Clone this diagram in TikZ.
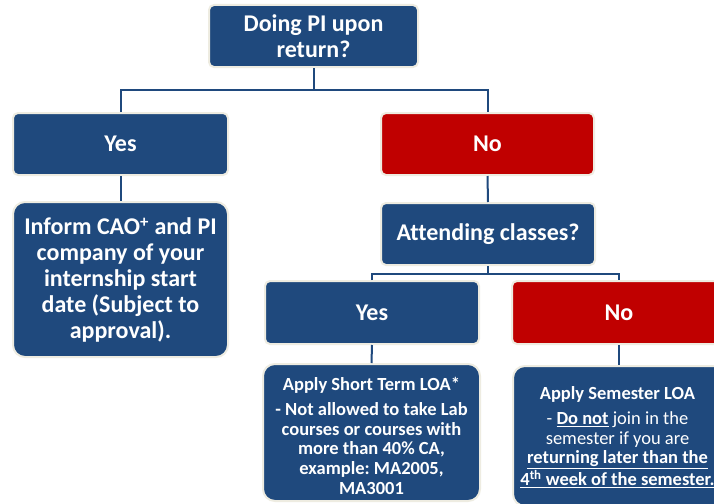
\documentclass[tikz,border=0pt]{standalone}
\usepackage{fontspec}
\setmainfont{Carlito}[Ligatures=NoCommon]
\frenchspacing
\definecolor{boxblue}{RGB}{31,73,125}
\definecolor{boxred}{RGB}{192,0,0}
\definecolor{cream}{RGB}{238,236,225}
\tikzset{
  base/.style={rectangle, draw=cream, line width=2pt, text=white, align=center,
    font=\fontsize{24}{25.5}\selectfont\bfseries, inner sep=0pt},
  bluebox/.style={base, fill=boxblue, rounded corners=5pt},
  redbox/.style={base, fill=boxred, rounded corners=5pt},
  bigbox/.style={base, fill=boxblue, rounded corners=12pt},
  smalltext/.style={text=white, align=center, inner sep=0pt, font=\fontsize{18.5}{19.8}\selectfont},
  conn/.style={draw=boxblue, line width=2pt}
}
\begin{document}
\begin{tikzpicture}[x=1pt,y=-1pt]
\useasboundingbox (0,0) rectangle (714,503);
\clip (0,0) rectangle (714,503);
\fill[white] (0,0) rectangle (714,503);
% nodes
\node[bluebox, minimum width=209pt, minimum height=62pt] (top) at (313.5,36) {Doing PI upon\\return?};
\node[bluebox, minimum width=215pt, minimum height=62pt] (yes) at (120.5,144) {Yes};
\node[redbox, minimum width=213pt, minimum height=62pt] (no) at (487.5,144) {No};
\node[bigbox, minimum width=215pt, minimum height=155pt, font=\fontsize{24}{26}\selectfont\bfseries] (inform) at (120.5,279.5) {Inform CAO\raisebox{-2pt}{\textsuperscript{+}} and PI\\company of your\\internship start\\date (Subject to\\approval).};
\node[bluebox, minimum width=214pt, minimum height=62pt] (attend) at (488,234) {Attending classes?};
\node[bluebox, minimum width=214pt, minimum height=63pt] (yes2) at (372,312.5) {Yes};
\node[redbox, minimum width=214pt, minimum height=63pt] (no2) at (619,312.5) {No};
\node[bigbox, minimum width=217pt, minimum height=137pt] (short) at (371.5,432.5) {};
\node[smalltext] (shorttext) at (371.5,436)
  {\bfseries Apply Short Term LOA*\\[5pt]
   \bfseries - Not allowed to take Lab\\
   \bfseries courses or courses with\\
   \bfseries more than 40\% CA,\\
   \bfseries example: MA2005,\\
   \bfseries MA3001};
\node[bigbox, minimum width=214pt, minimum height=140pt, anchor=north west] (sem) at (512,365) {};
\node[smalltext] (semtext) at (617.5,437)
  {\bfseries Apply Semester LOA\\[5pt]
   \mdseries - \underline{\bfseries Do not} join in the\\
   \mdseries semester if you are\\
   \underline{\bfseries returning later than the}\\
   \underline{\bfseries 4\textsuperscript{th} week of the semester.}};
% connectors
\coordinate (j1) at (313.5,90);
\coordinate (j2) at (488,274);
\draw[conn] (top.south) -- (j1);
\draw[conn] (yes.north) |- (j1) -| (no.north);
\draw[conn] (yes.south) -- (inform.north);
\draw[conn] (no.south) -- (attend.north);
\draw[conn] (attend.south) -- (j2);
\draw[conn] (yes2.north) |- (j2) -| (no2.north);
\draw[conn] (yes2.south) -- (short.north);
\draw[conn] (no2.south) -- (no2.south |- sem.north);
\end{tikzpicture}
\end{document}
